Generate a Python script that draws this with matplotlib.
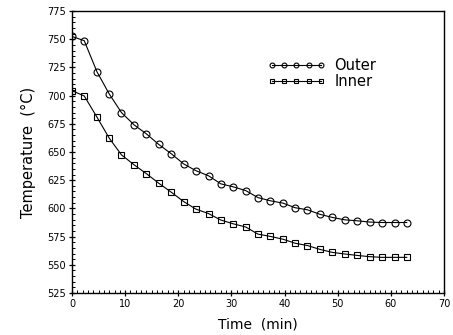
import matplotlib
matplotlib.use('Agg')
import matplotlib.pyplot as plt
from matplotlib.ticker import MultipleLocator

# cooling curves, sampled every ~2.3 min
time_min = [0.0, 2.3, 4.7, 7.0, 9.3, 11.7, 14.0, 16.3, 18.7, 21.0, 23.3, 25.7, 28.0, 30.3,
            32.7, 35.0, 37.3, 39.7, 42.0, 44.3, 46.7, 49.0, 51.3, 53.7, 56.0, 58.3, 60.7, 63.0]
outer_T = [752.5, 748.7, 721.1, 701.5, 685.0, 674.0, 666.1, 656.8, 648.4, 639.5, 633.5, 628.9,
           621.8, 619.2, 615.8, 609.6, 606.8, 604.7, 600.6, 598.8, 594.7, 592.0, 589.9, 589.0,
           587.9, 587.5, 587.5, 587.5]
inner_T = [704.4, 699.7, 680.9, 662.3, 647.5, 638.6, 630.8, 622.4, 614.3, 606.1, 599.4, 595.4,
           589.7, 586.4, 583.5, 577.2, 575.2, 572.7, 569.1, 567.1, 563.6, 561.0, 559.6, 558.3,
           557.2, 556.6, 556.6, 556.6]

plt.rcParams['font.family'] = 'DejaVu Sans'

fig = plt.figure(figsize=(4.53, 3.35), dpi=100)
ax = fig.add_axes([0.159, 0.1254, 0.821, 0.8416])

ax.plot(time_min, outer_T, color='black', lw=0.8, marker='o', ms=5,
        mfc='none', mec='black', mew=0.8, label='Outer')
ax.plot(time_min, inner_T, color='black', lw=0.8, marker='s', ms=4.5,
        mfc='none', mec='black', mew=0.8, label='Inner')

ax.set_xlim(0, 70)
ax.set_ylim(525, 775)
ax.xaxis.set_major_locator(MultipleLocator(10))
ax.xaxis.set_minor_locator(MultipleLocator(1))
ax.yaxis.set_major_locator(MultipleLocator(25))
ax.yaxis.set_minor_locator(MultipleLocator(5))
ax.tick_params(which='major', direction='inout', length=5, width=0.9, labelsize=7, pad=2)
ax.tick_params(which='minor', direction='in', length=2.5, width=0.7)

for s in ax.spines.values():
    s.set_linewidth(1.0)

ax.set_xlabel('Time  (min)', fontsize=10, labelpad=6)
ax.set_ylabel('Temperature  (°C)', fontsize=10.5, labelpad=8)

ax.legend(loc='upper left', bbox_to_anchor=(0.505, 0.86), frameon=False, numpoints=5,
          handlelength=4.0, handletextpad=0.6, markerscale=0.7, fontsize=10.5,
          labelspacing=0.1, borderpad=0)

fig.savefig('out.png', dpi=100)
